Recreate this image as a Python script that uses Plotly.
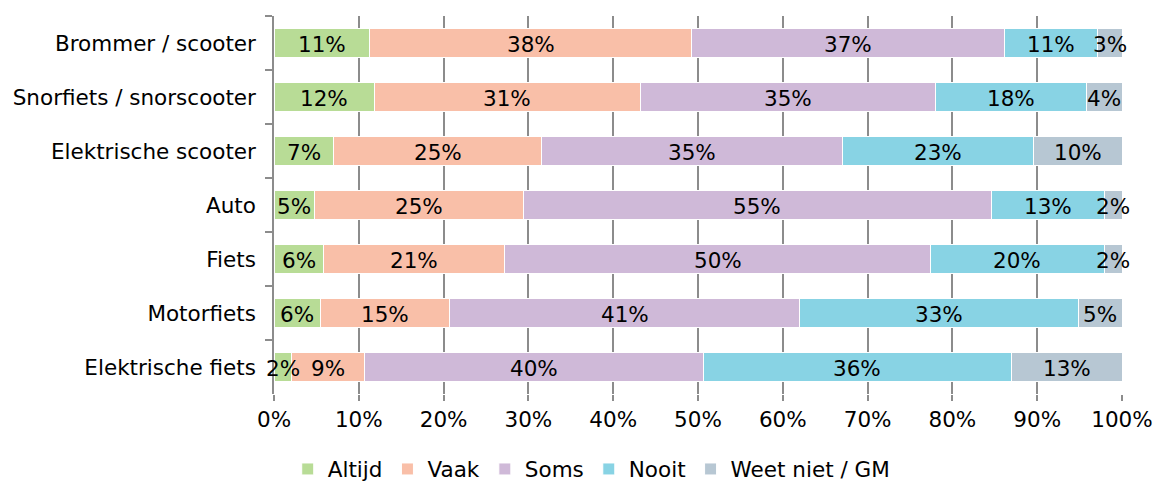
import plotly.graph_objects as go

categories = ["Brommer / scooter", "Snorfiets / snorscooter", "Elektrische scooter",
              "Auto", "Fiets", "Motorfiets", "Elektrische fiets"]
series_names = ["Altijd", "Vaak", "Soms", "Nooit", "Weet niet / GM"]
altijd = [11.3, 11.8, 7.0, 4.8, 5.8, 5.5, 2.1]
vaak = [37.9, 31.4, 24.6, 24.6, 21.4, 15.2, 8.6]
soms = [36.9, 34.8, 35.4, 55.2, 50.2, 41.3, 39.9]
nooit = [11.0, 17.8, 22.6, 13.3, 20.5, 32.9, 36.4]
weet_niet = [2.9, 4.2, 10.4, 2.1, 2.1, 5.1, 13.0]
colors = ["#B8DC96", "#F9BFA8", "#CFB9D8", "#88D3E4", "#B7C7D3"]

FONT = "DejaVu Sans, Verdana, sans-serif"
FS = 21.5

all_series = [altijd, vaak, soms, nooit, weet_niet]

fig = go.Figure()
for name, vals, col in zip(series_names, all_series, colors):
    fig.add_trace(go.Bar(
        y=categories, x=vals, name=name, orientation="h",
        marker=dict(color=col, line=dict(color="white", width=1)),
        hoverinfo="skip",
    ))

# value labels drawn on top of all bars (centred in each segment)
base = [0.0] * len(categories)
for vals in all_series:
    for cat, b, v in zip(categories, base, vals):
        fig.add_annotation(
            x=b + v / 2, y=cat, xref="x", yref="y",
            text=f"{round(v):d}%", showarrow=False,
            xanchor="center", yanchor="middle", yshift=-1,
            font=dict(family=FONT, size=FS, color="black"),
        )
    base = [b + v for b, v in zip(base, vals)]

fig.update_layout(
    barmode="stack", bargap=0.48,
    width=1157, height=482,
    margin=dict(l=274, r=35, t=16, b=88),
    paper_bgcolor="white", plot_bgcolor="white",
    font=dict(family=FONT, size=FS, color="black"),
    legend=dict(orientation="h", xref="container", x=0.511, xanchor="center",
                yref="container", y=0.027, yanchor="middle",
                font=dict(family=FONT, size=FS), traceorder="normal",
                itemwidth=30),
    showlegend=True,
)
fig.update_xaxes(range=[0, 100], tickvals=list(range(0, 101, 10)),
                 ticktext=[f"{v}%" for v in range(0, 101, 10)],
                 showgrid=True, gridcolor="#8c8c8c", gridwidth=1.5,
                 ticks="outside", ticklen=6, tickcolor="#8c8c8c", tickwidth=1.5,
                 showline=False, zeroline=False, automargin=False,
                 tickfont=dict(family=FONT, size=FS))
fig.update_yaxes(autorange="reversed", showline=True, linecolor="#8c8c8c", linewidth=1.5,
                 ticks="outside", tickson="boundaries", ticklen=7, tickcolor="#8c8c8c",
                 tickwidth=1.5, showgrid=False, ticklabelstandoff=12, automargin=False,
                 tickfont=dict(family=FONT, size=FS))

fig.write_html("out.html", config={"displayModeBar": False},
               post_script="document.body.style.margin='0';document.body.style.overflow='hidden';")
